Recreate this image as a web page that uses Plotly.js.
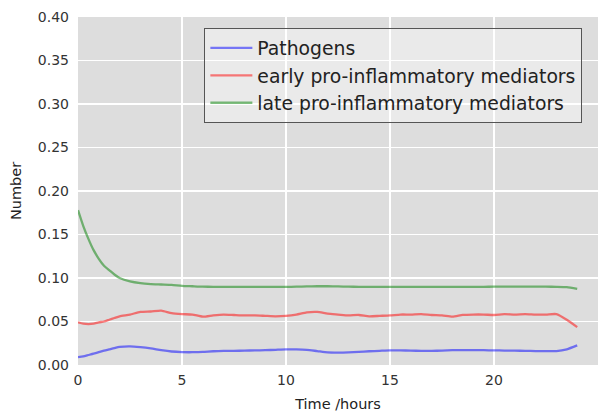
<!DOCTYPE html>
<html>
<head>
<meta charset="utf-8">
<script src="https://cdn.plot.ly/plotly-3.0.1.min.js"></script>
<style>
  html, body { margin: 0; padding: 0; background: #ffffff; }
  #chart { width: 605px; height: 412px; }
</style>
</head>
<body>
<div id="chart"></div>
<script>
// Time points (hours)
const timeHours = [0, 0.25, 0.5, 0.75, 1, 1.25, 1.5, 1.75, 2, 2.5, 3, 3.5, 4, 4.5, 5, 5.5, 6, 6.5, 7, 7.5, 8, 8.5, 9, 9.5, 10, 10.5, 11, 11.5, 12, 12.5, 13, 13.5, 14, 14.5, 15, 15.5, 16, 16.5, 17, 17.5, 18, 18.5, 19, 19.5, 20, 20.5, 21, 21.5, 22, 22.5, 23, 23.5, 24];

// Pathogen level
const pathogens = [0.009, 0.010, 0.0115, 0.013, 0.0148, 0.0165, 0.018, 0.0195, 0.0208, 0.0215, 0.0205, 0.019, 0.017, 0.0155, 0.0148, 0.0147, 0.015, 0.0158, 0.0162, 0.0163, 0.0165, 0.0168, 0.017, 0.0175, 0.018, 0.018, 0.0175, 0.016, 0.0145, 0.0143, 0.0145, 0.015, 0.0158, 0.0163, 0.0168, 0.0168, 0.0165, 0.0163, 0.0163, 0.0165, 0.017, 0.0172, 0.0172, 0.017, 0.0168, 0.0166, 0.0165, 0.0163, 0.016, 0.016, 0.016, 0.018, 0.0225];

// Early pro-inflammatory mediators
const earlyMediators = [0.049, 0.0475, 0.047, 0.0475, 0.049, 0.050, 0.052, 0.054, 0.056, 0.058, 0.061, 0.0615, 0.0625, 0.0595, 0.0585, 0.058, 0.0555, 0.057, 0.058, 0.0575, 0.057, 0.057, 0.0565, 0.056, 0.0565, 0.058, 0.0605, 0.061, 0.059, 0.058, 0.057, 0.0575, 0.056, 0.0565, 0.057, 0.058, 0.058, 0.0585, 0.0575, 0.057, 0.0555, 0.0575, 0.058, 0.058, 0.0575, 0.0585, 0.058, 0.0585, 0.058, 0.058, 0.0585, 0.052, 0.0435];

// Late pro-inflammatory mediators
const lateMediators = [0.178, 0.160, 0.145, 0.132, 0.122, 0.114, 0.109, 0.104, 0.100, 0.096, 0.094, 0.093, 0.0925, 0.092, 0.091, 0.0905, 0.090, 0.0899, 0.0898, 0.0898, 0.0898, 0.0898, 0.0898, 0.0898, 0.0898, 0.0900, 0.0903, 0.0905, 0.0905, 0.0903, 0.0900, 0.0899, 0.0898, 0.0897, 0.0897, 0.0898, 0.0898, 0.0899, 0.0899, 0.0899, 0.0899, 0.0899, 0.0899, 0.0899, 0.0900, 0.0900, 0.0900, 0.0900, 0.0900, 0.0900, 0.0899, 0.0895, 0.0875];

const seriesNames = ['Pathogens', 'early pro-inflammatory mediators', 'late pro-inflammatory mediators'];
const xTicks = [0, 5, 10, 15, 20, 25];
const yTicks = [0, 0.05, 0.10, 0.15, 0.20, 0.25, 0.30, 0.35, 0.40];

const lineColors = ['rgba(0,0,255,0.5)', 'rgba(255,0,0,0.5)', 'rgba(0,128,0,0.5)'];
const values = [pathogens, earlyMediators, lateMediators];

const traces = values.map((v, i) => ({
  x: timeHours,
  y: v,
  type: 'scatter',
  mode: 'lines',
  name: seriesNames[i],
  line: { color: lineColors[i], width: 2.3, shape: 'spline', smoothing: 0.6 }
}));

const font = 'DejaVu Sans, sans-serif';

const layout = {
  width: 605,
  height: 412,
  margin: { l: 78, r: 7, t: 17, b: 47 },
  paper_bgcolor: '#ffffff',
  plot_bgcolor: '#dddddd',
  font: { family: font, color: '#333333', size: 14 },
  showlegend: true,
  legend: {
    x: 0.243, y: 0.968, xanchor: 'left', yanchor: 'top',
    bgcolor: 'rgba(255,255,255,0.4)',
    bordercolor: '#555555',
    borderwidth: 1,
    font: { family: font, size: 18.8, color: '#222222' },
    itemwidth: 42
  },
  xaxis: {
    range: [0, 25],
    tickvals: xTicks,
    ticktext: xTicks.map(String),
    showgrid: true, gridcolor: '#ffffff', gridwidth: 1.8,
    zeroline: false, showline: false, ticks: '',
    ticklabelstandoff: 5,
    tickfont: { family: font, size: 14, color: '#333333' },
    title: { text: 'Time /hours', font: { family: font, size: 14.5, color: '#222222' }, standoff: 12 }
  },
  yaxis: {
    range: [0, 0.4],
    tickvals: yTicks,
    ticktext: yTicks.map(v => v.toFixed(2)),
    showgrid: true, gridcolor: '#ffffff', gridwidth: 1.8,
    zeroline: false, showline: false, ticks: '',
    ticklabelstandoff: 8,
    tickfont: { family: font, size: 14, color: '#333333' },
    title: { text: 'Number', font: { family: font, size: 14.5, color: '#222222' }, standoff: 12 }
  }
};

Plotly.newPlot('chart', traces, layout, { displayModeBar: false, staticPlot: true });
</script>
</body>
</html>
